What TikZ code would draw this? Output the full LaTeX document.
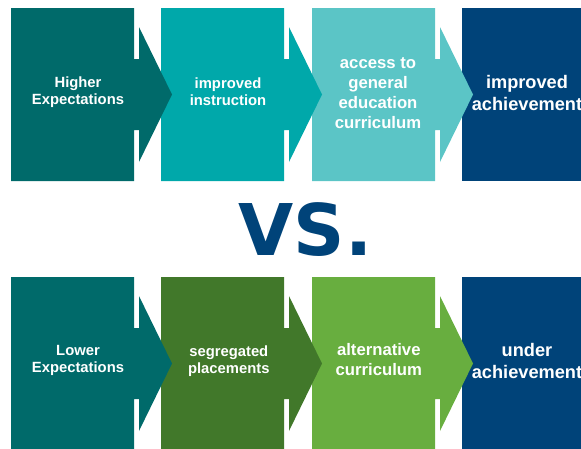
\documentclass[tikz,border=0pt]{standalone}
\usepackage{fontspec}
\setmainfont{Liberation Sans}
\newfontfamily\vsfont{DejaVu Sans}
\definecolor{cteal}{HTML}{006A6A}
\definecolor{cmid}{HTML}{00A8AA}
\definecolor{clight}{HTML}{5BC5C6}
\definecolor{cnavy}{HTML}{004379}
\definecolor{cdgreen}{HTML}{41782A}
\definecolor{clgreen}{HTML}{68AE3F}
\newcommand\chevshape[3]{\fill[#3] (#1,#2) -- ++(123,0) -- ++(0,51) -- ++(5,0) -- ++(0,-32) -- ++(33,67.5) -- ++(-33,67.5) -- ++(0,-32) -- ++(-5,0) -- ++(0,51) -- ++(-123,0) -- cycle;}
\tikzset{
  lblS/.style={text=white, font=\bfseries\fontsize{14.8}{17.3}\selectfont, align=center, inner sep=0pt},
  lblM/.style={text=white, font=\bfseries\fontsize{16.7}{20}\selectfont, align=center, inner sep=0pt},
  lblL/.style={text=white, font=\bfseries\fontsize{18.2}{22}\selectfont, align=center, inner sep=0pt},
  vsstyle/.style={text=cnavy, font=\vsfont\bfseries\fontsize{71.3}{72}\selectfont, inner sep=0pt}
}
\begin{document}
\begin{tikzpicture}[x=1pt,y=-1pt]
\useasboundingbox (0,0) rectangle (581,448);
\clip (0,0) rectangle (581,448);
% top row (drawn right to left so arrows overlap next box)
\fill[cnavy] (462,8) rectangle (600,181);
\chevshape{312}{8}{clight}
\chevshape{161}{8}{cmid}
\chevshape{11}{8}{cteal}
% bottom row
\fill[cnavy] (462,277) rectangle (600,460);
\chevshape{312}{277}{clgreen}
\chevshape{161}{277}{cdgreen}
\chevshape{11}{277}{cteal}
% labels
\node[lblS] (t1) at (78,92) {Higher\\Expectations};
\node[lblS] (t2) at (228,92) {improved\\instruction};
\node[lblM] (t3) at (378,93) {access to\\general\\education\\curriculum};
\node[lblL] (t4) at (527,93) {improved\\achievement};
\node[lblS] (b1) at (78,360.5) {Lower\\Expectations};
\node[lblS] (b2) at (228.8,361) {segregated\\placements};
\node[lblM] (b3) at (378.8,359.5) {alternative\\curriculum};
\node[lblL] (b4) at (527,360.7) {under\\achievement};
\node[vsstyle, anchor=base] (vs) at (305.5,255) {VS.};
\end{tikzpicture}
\end{document}
